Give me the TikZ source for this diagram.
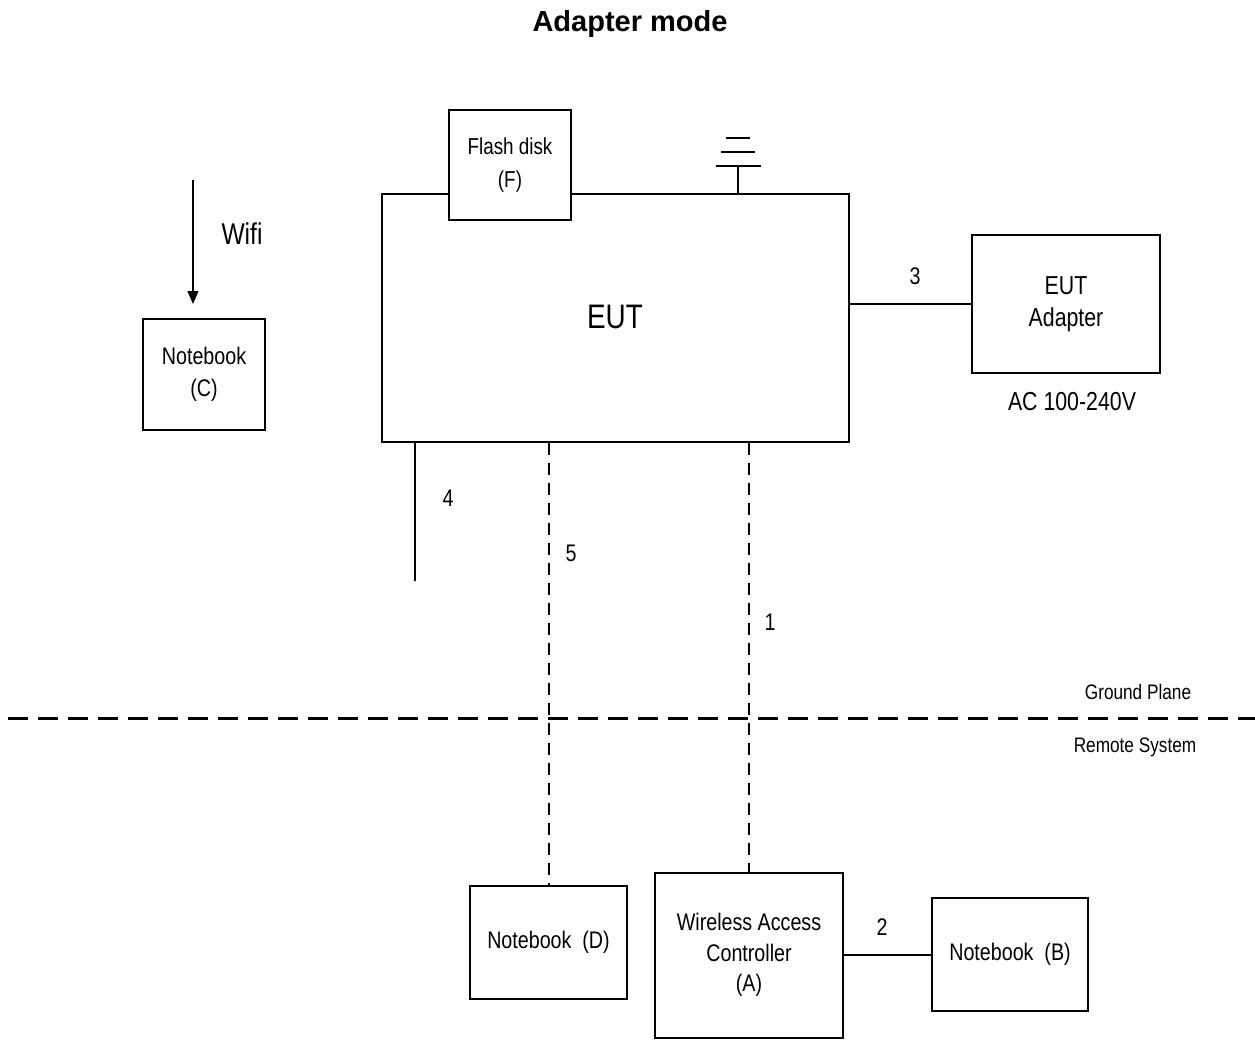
\documentclass[tikz,border=0pt]{standalone}
\usepackage{fontspec}
\setmainfont{Liberation Sans}
\newfontfamily\narrow[FakeStretch=0.82]{Liberation Sans}
\usetikzlibrary{arrows.meta}

\tikzset{
  box/.style={draw, line width=2pt, rectangle, inner sep=0pt, align=center},
  wire/.style={line width=2pt},
  cable/.style={line width=2pt, dash pattern=on 12pt off 8pt},
  plane/.style={line width=3pt, dash pattern=on 20pt off 10pt},
  lbl/.style={inner sep=0pt, font=\narrow\fontsize{24}{28}\selectfont},
}

\begin{document}
\begin{tikzpicture}[x=1pt, y=-1pt]
\useasboundingbox (0,0) rectangle (1255,1046);

% title
\node[inner sep=0pt, font=\bfseries\fontsize{29}{32}\selectfont] (title) at (630,24.5) {Adapter mode};

% equipment under test with attached flash disk and antenna
\node[box, minimum width=467pt, minimum height=248pt] (eut) at (615.5,318) {};
\node[lbl, font=\narrow\fontsize{34}{38}\selectfont] (eutlbl) at (615,317) {EUT};
\node[box, fill=white, minimum width=122pt, minimum height=110pt,
      font=\narrow\fontsize{23}{33}\selectfont] (flash) at (510,165) {Flash disk\\(F)};

\coordinate (ant) at (738,166);
\draw[wire] (eut.north -| ant) -- (ant);
\draw[wire] (716,166) -- (761,166);
\draw[wire] (721,152) -- (755,152);
\draw[wire] (726,138) -- (750,138);

% power adapter
\node[box, minimum width=188pt, minimum height=138pt,
      font=\narrow\fontsize{26}{32}\selectfont] (adapter) at (1066,304) {EUT\\Adapter};
\node[lbl, font=\narrow\fontsize{26}{30}\selectfont] (ac) at (1072,402) {AC 100-240V};
\draw[wire] (eut.east |- adapter.west) -- (adapter.west);
\node[lbl] (n3) at (915,276) {3};

% wireless notebook
\node[box, minimum width=122pt, minimum height=111pt,
      font=\narrow\fontsize{24}{32}\selectfont] (nbC) at (204,374) {Notebook\\(C)};
\coordinate (wifiA) at (193,180);
\coordinate (wifiB) at (193,304);
\draw[line width=1.4pt, -{Triangle[length=13pt,width=11pt]}] (wifiA) -- (wifiB);
\node[lbl, font=\narrow\fontsize{30}{34}\selectfont] (wifi) at (242,234) {Wifi};

% cables leaving the EUT
\coordinate (c4) at (415,581);
\draw[wire] (eut.south -| c4) -- (c4);
\node[lbl] (n4) at (448,498) {4};

% ground plane
\coordinate (gpL) at (8,718);
\coordinate (gpR) at (1255,718);
\draw[plane] (gpL) -- (gpR);
\node[lbl, font=\narrow\fontsize{21}{24}\selectfont] (gp) at (1138,692) {Ground Plane};
\node[lbl, font=\narrow\fontsize{21}{24}\selectfont] (rs) at (1135,747) {Remote System};

% remote system
\node[box, minimum width=157pt, minimum height=113pt,
      font=\narrow\fontsize{24}{28}\selectfont] (nbD) at (548.5,942.5) {Notebook\ \ (D)};
\node[box, minimum width=188pt, minimum height=165pt,
      font=\narrow\fontsize{24}{30.5}\selectfont] (wac) at (749,955) {Wireless Access\\Controller\\(A)};
\node[box, minimum width=156pt, minimum height=113pt,
      font=\narrow\fontsize{24}{28}\selectfont] (nbB) at (1010,954) {Notebook\ \ (B)};

\draw[cable] (eut.south -| nbD.north) -- (nbD.north);
\node[lbl] (n5) at (571,553) {5};
\draw[cable] (eut.south -| wac.north) -- (wac.north);
\node[lbl] (n1) at (770,622) {1};
\draw[wire] (wac.east) -- (nbB.west |- wac.east);
\node[lbl] (n2) at (882,927) {2};
\end{tikzpicture}
\end{document}
